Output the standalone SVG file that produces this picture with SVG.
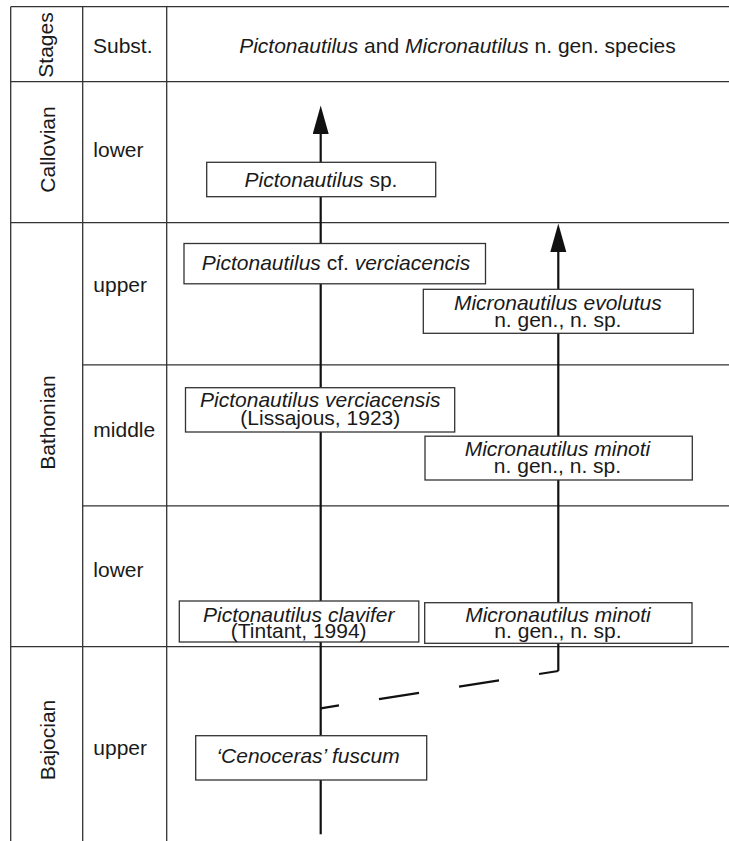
<svg xmlns="http://www.w3.org/2000/svg" width="729" height="841" viewBox="0 0 729 841">
<style>
.grid{stroke:#333;stroke-width:1.3;fill:none}
.lbl{font-family:"Liberation Sans",Arial,sans-serif;font-size:21px;fill:#1a1a1a}
.box{fill:#fff;stroke:#333;stroke-width:1.3}
.it{font-style:italic}
.arr{stroke:#111;stroke-width:2.2;fill:none}
.dash{stroke:#111;stroke-width:2.2;fill:none;stroke-dasharray:40.5 40.5;stroke-dashoffset:21}
.c{text-anchor:middle}
</style>
<defs>
<marker id="head" markerUnits="userSpaceOnUse" markerWidth="30" markerHeight="17" refX="14" refY="8" orient="auto">
<path d="M0,0 L28.5,8 L0,16 Z" fill="#111"/>
</marker>
</defs>
<rect width="729" height="841" fill="#fff"/>
<g id="grid">
<path class="grid" d="M10.7,6.7 H729 M10.7,81.7 H729 M10.7,222.7 H729 M10.7,646.7 H729 M82.7,364.8 H729 M82.7,505.8 H729 M10.7,6.7 V841 M82.7,6.7 V841 M166.7,6.7 V841"/>
</g>
<g id="header">
<text class="lbl c" transform="translate(53,45) rotate(-90)">Stages</text>
<text class="lbl" x="93" y="53">Subst.</text>
<text class="lbl c" x="457.5" y="53.3"><tspan class="it">Pictonautilus</tspan> and <tspan class="it">Micronautilus</tspan> n. gen. species</text>
</g>
<g id="stages">
<text class="lbl c" transform="translate(54.5,149.5) rotate(-90)">Callovian</text>
<text class="lbl c" transform="translate(55,422.5) rotate(-90)">Bathonian</text>
<text class="lbl c" transform="translate(55,740) rotate(-90)">Bajocian</text>
</g>
<g id="substages">
<text class="lbl" x="93.3" y="156.7">lower</text>
<text class="lbl" x="93.3" y="292">upper</text>
<text class="lbl" x="93.3" y="436.7">middle</text>
<text class="lbl" x="93.3" y="576.7">lower</text>
<text class="lbl" x="93.3" y="755">upper</text>
</g>
<g id="connectors">
<path class="arr" d="M320.7,834.3 V120" marker-end="url(#head)"/>
<path class="arr" d="M558.3,671 V238" marker-end="url(#head)"/>
<path class="dash" d="M558.3,671 L320.7,708.3"/>
</g>
<g id="n-sp">
<rect class="box" x="206.7" y="162.3" width="229" height="34.4"/>
<text class="lbl c" x="321" y="186.7"><tspan class="it">Pictonautilus</tspan> sp.</text>
</g>
<g id="n-cf">
<rect class="box" x="184" y="243.5" width="301.5" height="40.3"/>
<text class="lbl c" x="336" y="270"><tspan class="it">Pictonautilus</tspan> cf. <tspan class="it">verciacencis</tspan></text>
</g>
<g id="n-evolutus">
<rect class="box" x="423.3" y="289.3" width="270" height="44"/>
<text class="lbl c" x="557.8" y="310"><tspan class="it">Micronautilus evolutus</tspan></text>
<text class="lbl c" x="557.8" y="326.7">n. gen., n. sp.</text>
</g>
<g id="n-verciacensis">
<rect class="box" x="185.5" y="387.7" width="269.2" height="44.3"/>
<text class="lbl c" x="320.3" y="406.7"><tspan class="it">Pictonautilus verciacensis</tspan></text>
<text class="lbl c" x="320.3" y="424.7">(Lissajous, 1923)</text>
</g>
<g id="n-minoti-mid">
<rect class="box" x="425" y="436.2" width="267.3" height="43.8"/>
<text class="lbl c" x="557.5" y="456"><tspan class="it">Micronautilus minoti</tspan></text>
<text class="lbl c" x="557.5" y="473.3">n. gen., n. sp.</text>
</g>
<g id="n-clavifer">
<rect class="box" x="179.3" y="601" width="239.5" height="41"/>
<text class="lbl c" x="298.7" y="621.7"><tspan class="it">Pictonautilus clavifer</tspan></text>
<text class="lbl c" x="298.7" y="638.3">(Tintant, 1994)</text>
</g>
<g id="n-minoti-low">
<rect class="box" x="424.7" y="602.7" width="267.3" height="40.6"/>
<text class="lbl c" x="558" y="621.7"><tspan class="it">Micronautilus minoti</tspan></text>
<text class="lbl c" x="558" y="638.3">n. gen., n. sp.</text>
</g>
<g id="n-cenoceras">
<rect class="box" x="195.7" y="735.7" width="231" height="44.3"/>
<text class="lbl c" x="308" y="763.3"><tspan class="it">‘Cenoceras’ fuscum</tspan></text>
</g>
</svg>
